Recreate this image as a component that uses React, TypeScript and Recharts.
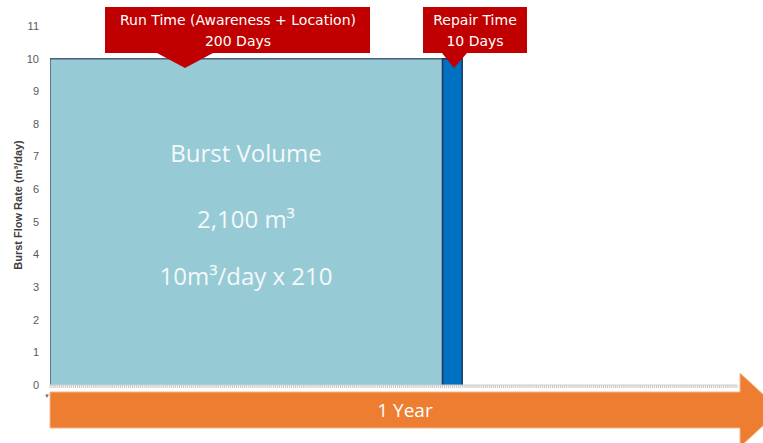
import { ComposedChart, Area, XAxis, YAxis } from 'recharts';

// outline points of the two volume blocks (day, burst flow rate m3/day)
const runDays = [0, 0, 200, 200];
const runRate = [0, 10, 10, 0];
const repairDays = [200, 200, 210, 210];
const repairRate = [0, 10, 10, 0];

const yTicks = [0, 1, 2, 3, 4, 5, 6, 7, 8, 9, 10, 11];
const xMax = 350;
const dayTicks = Array.from({ length: xMax + 1 }, (_, i) => i);

const runData = runDays.map((day, i) => ({ day, run: runRate[i] }));
const repairData = repairDays.map((day, i) => ({ day, repair: repairRate[i] }));

const yLabel = 'Burst Flow Rate (m³/day)';

function YLabel() {
  return (
    <text
      transform="rotate(-90 18 205)"
      x={18}
      y={205}
      textAnchor="middle"
      dominantBaseline="central"
      fontFamily="'Liberation Sans Narrow', 'Liberation Sans', Arial, sans-serif"
      fontWeight="bold"
      fontSize={11}
      fill="#404040"
    >
      {yLabel}
    </text>
  );
}

const calloutFont = "'DejaVu Sans', Tahoma, sans-serif";
const bodyFont = "'Open Sans', Calibri, sans-serif";

export default function App() {
  return (
    <div
      style={{
        position: 'fixed',
        left: 0,
        top: 0,
        width: 763,
        height: 443,
        background: '#fff',
        overflow: 'hidden',
      }}
    >
      <ComposedChart
        width={763}
        height={443}
        margin={{ top: 26, right: 26, left: 0, bottom: 0 }}
      >
        <XAxis
          dataKey="day"
          type="number"
          domain={[0, xMax]}
          ticks={dayTicks}
          interval={0}
          tickFormatter={() => ''}
          tickSize={3}
          height={58}
          axisLine={{ stroke: '#d0d0d0' }}
          tickLine={{ stroke: '#c4c4c4' }}
          allowDataOverflow
        />
        <YAxis
          type="number"
          domain={[0, 11]}
          ticks={yTicks}
          interval={0}
          width={50}
          tickSize={0}
          tickMargin={11}
          axisLine={false}
          tick={{ fill: '#595959', fontSize: 11, fontFamily: "'Liberation Sans', Arial, sans-serif" }}
          label={<YLabel />}
        />
        <Area
          data={runData}
          dataKey="run"
          type="linear"
          fill="#96CBD5"
          fillOpacity={1}
          stroke="#4A5F7E"
          strokeWidth={1.5}
          dot={false}
          activeDot={false}
          isAnimationActive={false}
        />
        <Area
          data={repairData}
          dataKey="repair"
          type="linear"
          fill="#0070C0"
          fillOpacity={1}
          stroke="#1F3864"
          strokeWidth={1.5}
          dot={false}
          activeDot={false}
          isAnimationActive={false}
        />
      </ComposedChart>
      <svg
        width={763}
        height={443}
        style={{ position: 'absolute', left: 0, top: 0, pointerEvents: 'none' }}
      >
        {/* text inside the run-time block */}
        <g fill="#F4F8FA" fontFamily={bodyFont} textAnchor="middle">
          <text x={246} y={162} fontSize={24}>Burst Volume</text>
          <text x={246} y={228} fontSize={24}>2,100 m³</text>
          <text x={246} y={285} fontSize={24}>10m³/day x 210</text>
        </g>

        {/* Run time callout */}
        <polygon points="105,7 370,7 370,53 213,53 185,68 157,53 105,53" fill="#C00000" />
        <g fill="#fff" fontFamily={calloutFont} fontSize={14} textAnchor="middle">
          <text x={238} y={25}>Run Time (Awareness + Location)</text>
          <text x={238} y={46}>200 Days</text>
        </g>

        {/* Repair time callout */}
        <polygon points="423,7 527,7 527,53 467,53 454,68 442,53 423,53" fill="#C00000" />
        <g fill="#fff" fontFamily={calloutFont} fontSize={14} textAnchor="middle">
          <text x={475} y={25}>Repair Time</text>
          <text x={475} y={46}>10 Days</text>
        </g>

        {/* year arrow */}
        <polygon
          points="50,392 740,392 740,373 780,410 740,447 740,428 50,428"
          fill="#ED7D31"
          stroke="#F5B78A"
          strokeWidth={1}
        />
        <text x={405} y={417} fill="#fff" fontFamily={bodyFont} fontSize={19} textAnchor="middle">
          1 Year
        </text>
        <text x={47} y={398} fill="#707070" fontSize={6} textAnchor="middle">▼</text>
      </svg>
    </div>
  );
}
